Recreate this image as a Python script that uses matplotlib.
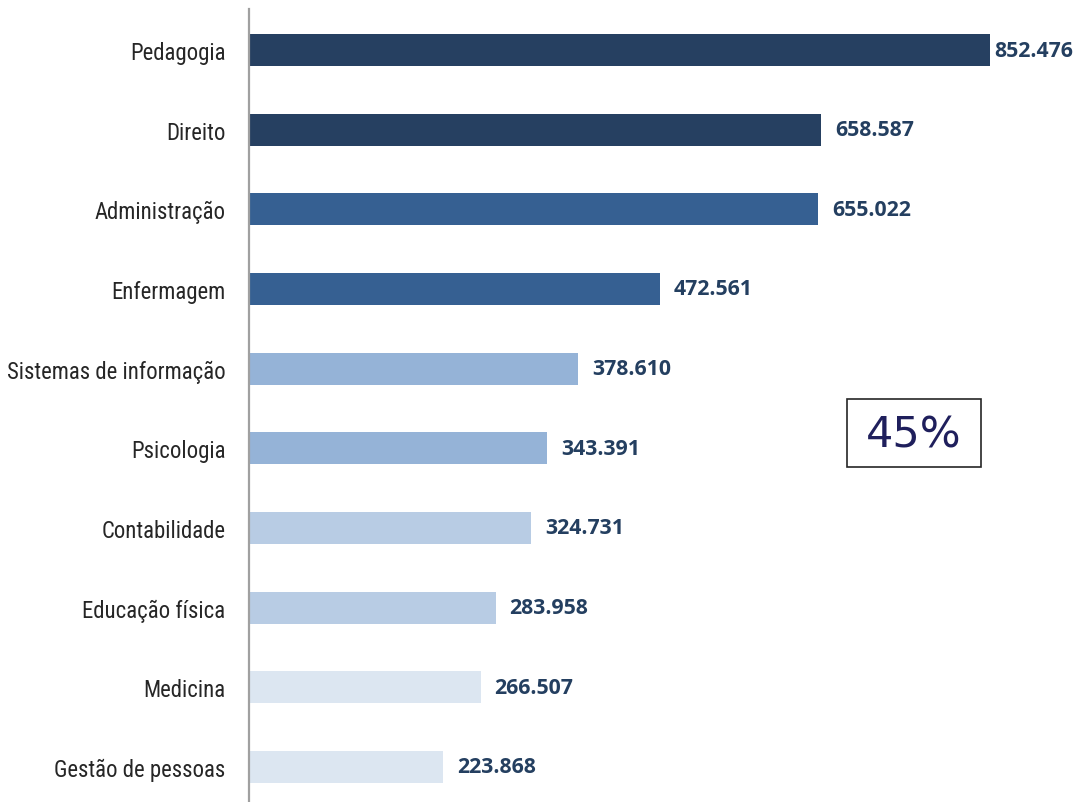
import matplotlib
matplotlib.use("Agg")
import matplotlib.pyplot as plt
from matplotlib.patches import Rectangle

# cursos -> matriculas (milhares)
cursos = ["Pedagogia", "Direito", "Administração", "Enfermagem", "Sistemas de informação",
          "Psicologia", "Contabilidade", "Educação física", "Medicina", "Gestão de pessoas"]
valores = [852.476, 658.587, 655.022, 472.561, 378.610,
           343.391, 324.731, 283.958, 266.507, 223.868]
rotulos = ["852.476", "658.587", "655.022", "472.561", "378.610",
           "343.391", "324.731", "283.958", "266.507", "223.868"]
cores = ["#264061", "#264061", "#366092", "#366092", "#95B3D7",
         "#95B3D7", "#B8CCE4", "#B8CCE4", "#DCE6F1", "#DCE6F1"]
destaque = "45%"

W, H = 1076, 803
fig = plt.figure(figsize=(W / 100, H / 100), dpi=100)
ax = fig.add_axes([249 / W, 0, 1 - 249 / W, 1 - 10 / H])

y = range(len(cursos))
bars = ax.barh(y, valores, height=0.4, color=cores)
ax.set_xlim(0, 952)
ax.set_ylim(9.44, -0.515)

ax.set_yticks(list(y))
ax.set_yticklabels(cursos, fontsize=16.4, color="#262626",
                   family=["Liberation Sans Narrow", "Roboto Condensed", "DejaVu Sans"])
ax.tick_params(axis="y", length=0, pad=17)
ax.set_xticks([])
for s in ["top", "right", "bottom"]:
    ax.spines[s].set_visible(False)
ax.spines["left"].set_color("#A0A0A0")
ax.spines["left"].set_linewidth(1.6)

for b, v, t in zip(bars, valores, rotulos):
    pad = 3.5 if v == max(valores) else 10
    ax.annotate(t, (v, b.get_y() + b.get_height() / 2), xytext=(pad, 0),
                textcoords="offset points", va="center", ha="left",
                fontsize=15.3, fontweight="bold", color="#243F60",
                family=["Open Sans", "Lato", "DejaVu Sans"])

# caixa de destaque
fig.add_artist(Rectangle((847 / W, 1 - 468 / H), 134 / W, 68 / H, transform=fig.transFigure,
                         fc="white", ec="#262626", lw=1.2))
fig.text(914 / W, 1 - 436 / H, destaque, ha="center", va="center",
         fontsize=31, color="#1F1F5C", family="DejaVu Sans")

fig.savefig("out.png", dpi=100)
